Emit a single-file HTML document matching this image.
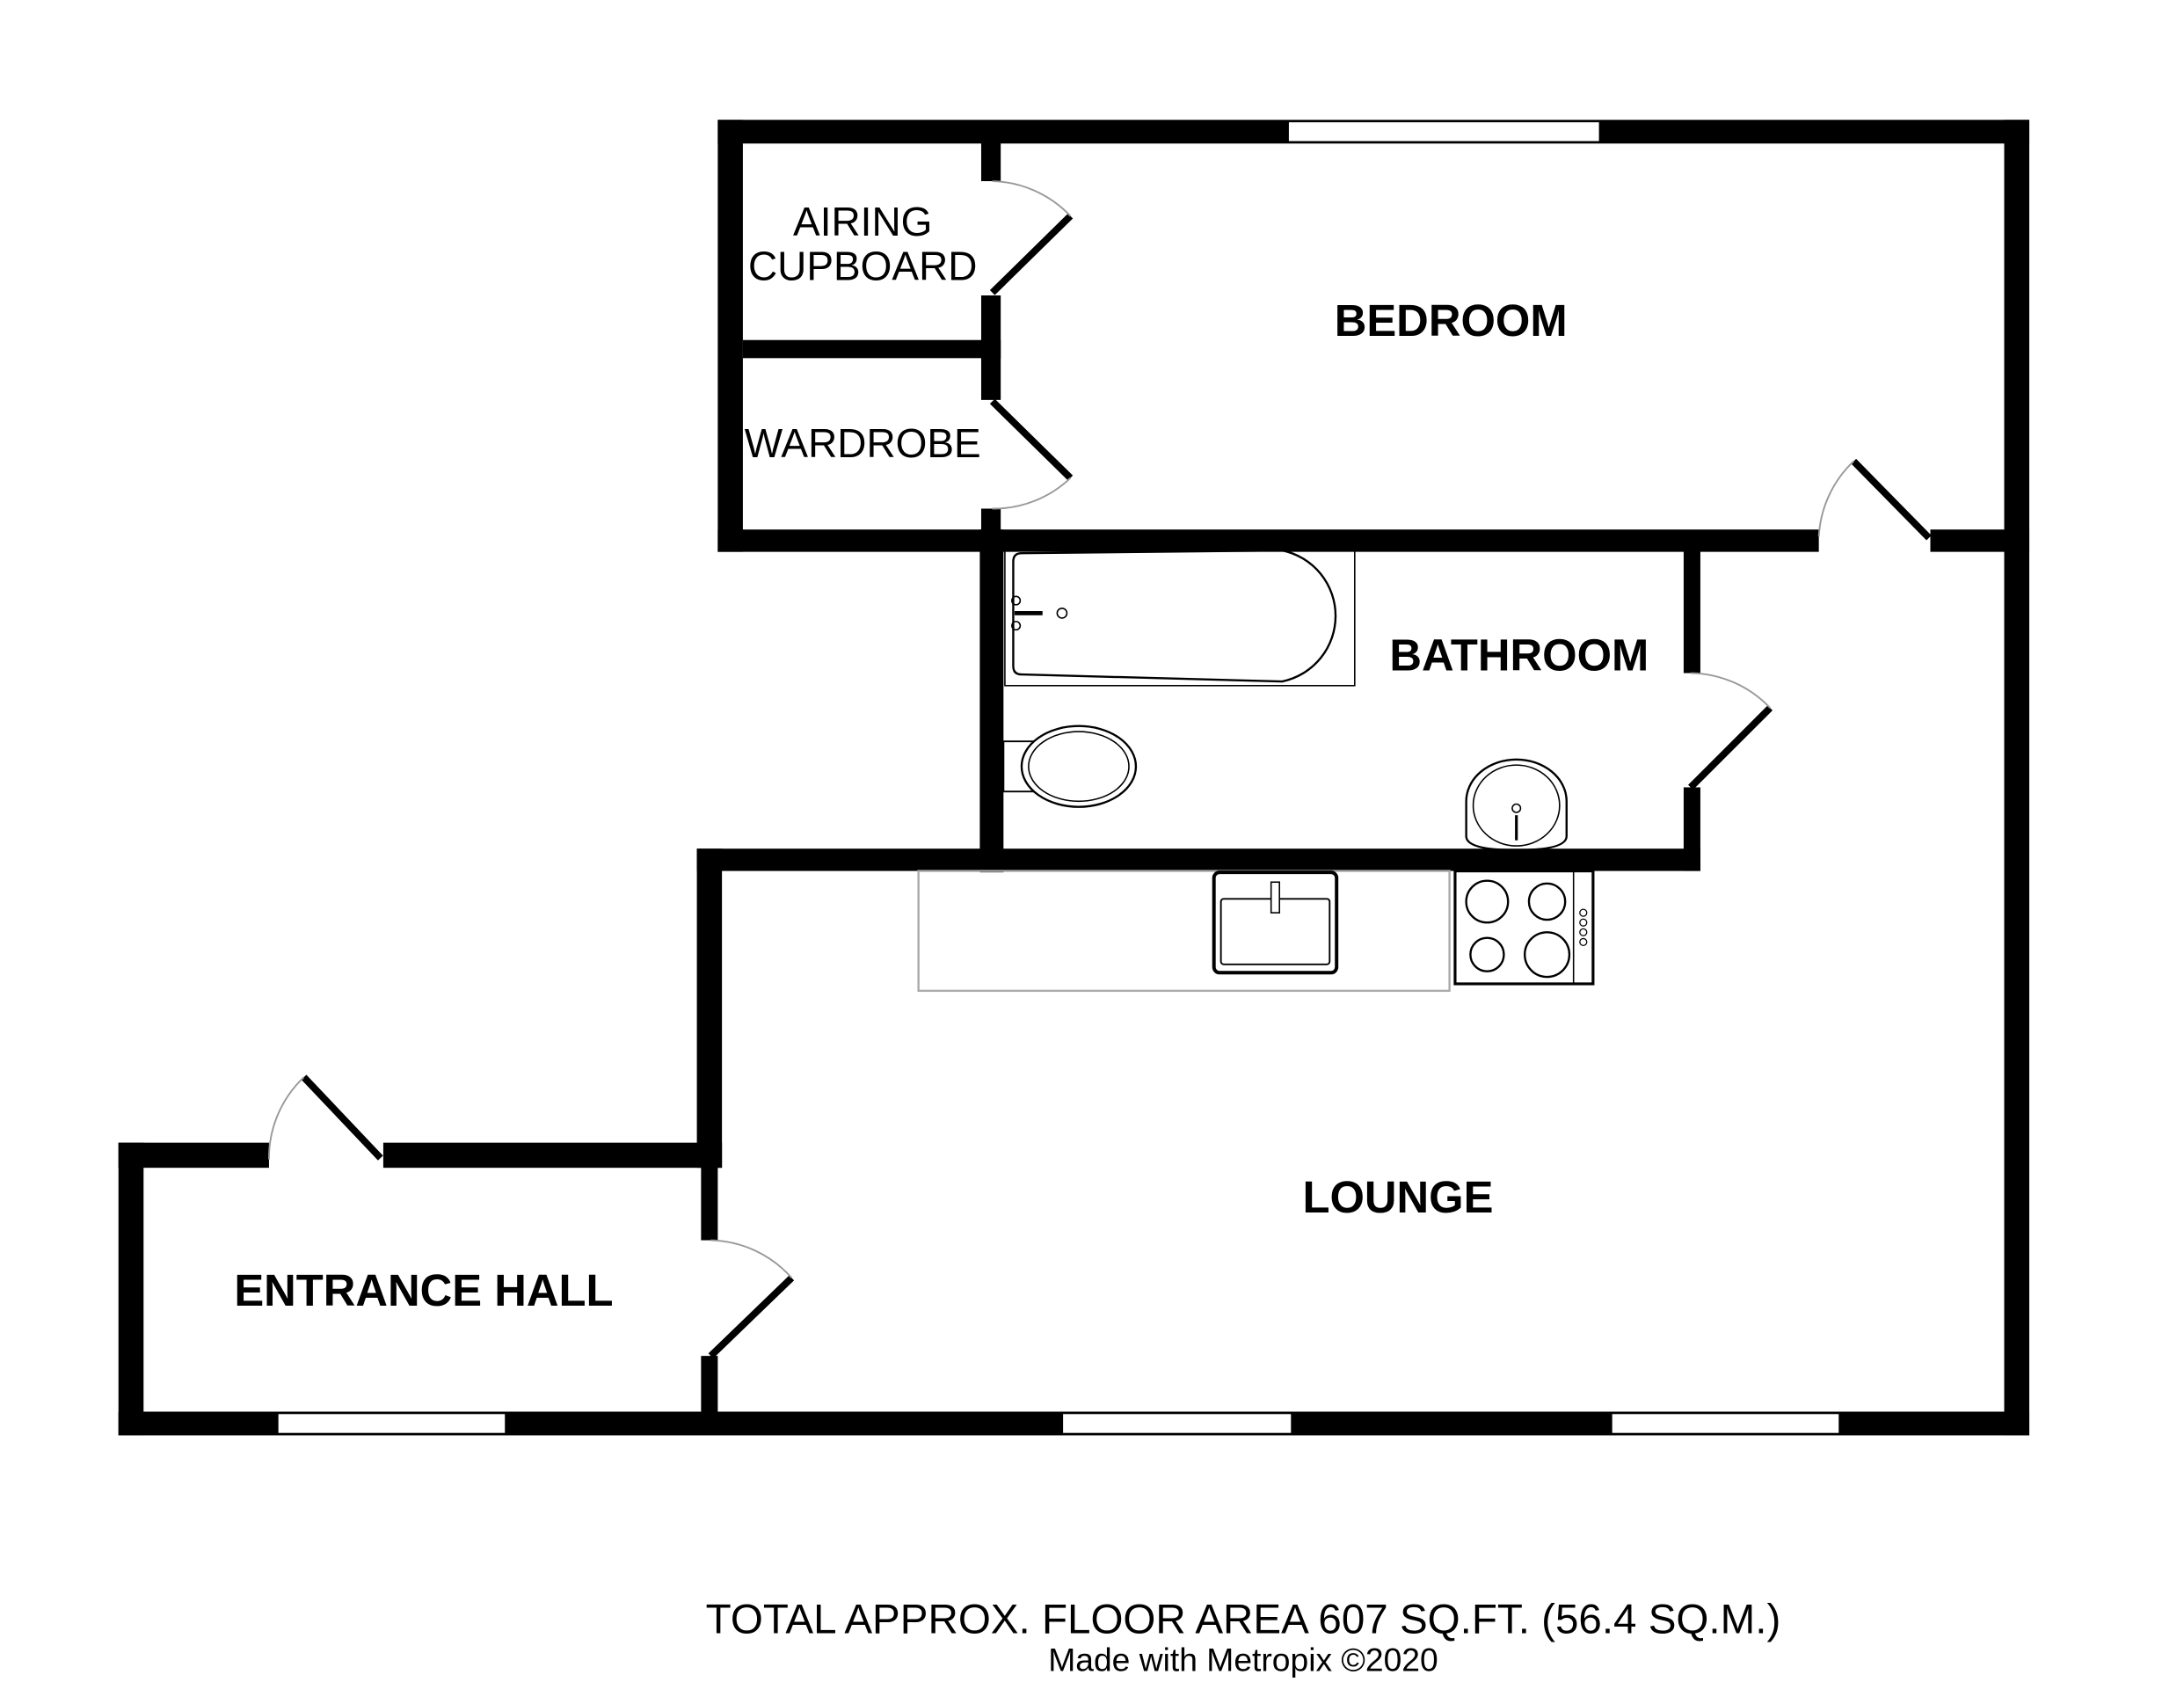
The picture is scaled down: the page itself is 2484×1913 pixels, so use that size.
<!DOCTYPE html>
<html><head><style>html,body{margin:0;padding:0;background:#fff}svg{display:block}</style></head>
<body>
<svg width="2484" height="1913" viewBox="0 0 1567 1207" preserveAspectRatio="none" xmlns="http://www.w3.org/2000/svg" font-family="Liberation Sans, Arial, sans-serif">
<rect width="1567" height="1207" fill="#fff"/>
<g fill="#000">
<rect x="515" y="86" width="941" height="17"/>
<rect x="1438" y="86" width="18" height="944"/>
<rect x="515" y="86" width="18" height="310"/>
<rect x="704" y="102" width="14" height="28"/>
<rect x="704" y="212" width="14" height="75"/>
<rect x="704" y="365" width="14" height="31"/>
<rect x="533" y="244" width="185" height="13"/>
<rect x="515" y="380" width="790" height="16"/>
<rect x="1385" y="380" width="71" height="16"/>
<rect x="703" y="380" width="17" height="246"/>
<rect x="1208" y="390" width="12" height="93"/>
<rect x="1208" y="565" width="12" height="60"/>
<rect x="500" y="609" width="720" height="16"/>
<rect x="500" y="609" width="18" height="229"/>
<rect x="503" y="836" width="12" height="54"/>
<rect x="503" y="973" width="12" height="50"/>
<rect x="85" y="820" width="108" height="18"/>
<rect x="275" y="820" width="243" height="18"/>
<rect x="85" y="820" width="18" height="210"/>
<rect x="85" y="1013" width="1371" height="17"/>
</g>
<g fill="#fff" stroke="#000" stroke-width="1.5">
<rect x="924" y="87" width="224" height="15"/>
<rect x="199" y="1014" width="164" height="15"/>
<rect x="762" y="1014" width="165" height="15"/>
<rect x="1156" y="1014" width="164" height="15"/>
</g>
<g stroke="#000" stroke-width="5" fill="none">
<line x1="712" y1="210" x2="768" y2="155"/>
<line x1="712" y1="288" x2="768" y2="343"/>
<line x1="1330" y1="331" x2="1384" y2="386"/>
<line x1="1270" y1="508" x2="1213" y2="565"/>
<line x1="218" y1="773" x2="273" y2="831"/>
<line x1="568" y1="917" x2="510" y2="973"/>
</g>
<g stroke="#999" stroke-width="1.2" fill="none">
<path d="M712 130 A80 80 0 0 1 768 155"/>
<path d="M712 365 A80 80 0 0 0 768 343"/>
<path d="M1305 385 A80 80 0 0 1 1330 331"/>
<path d="M1213 483 A80 80 0 0 1 1270 508"/>
<path d="M193 832 A80 80 0 0 1 218 773"/>
<path d="M510 890 A80 80 0 0 1 568 917"/>
</g>
<rect x="721" y="391" width="251" height="101" fill="none" stroke="#000" stroke-width="1"/>
<path d="M733 397 L920 395 A48 48 0 0 1 920 489 L733 484 Q727 484 727 478 L727 403 Q727 397 733 397 Z" fill="none" stroke="#000" stroke-width="1.5"/>
<line x1="728" y1="440" x2="748" y2="440" stroke="#000" stroke-width="3"/>
<circle cx="762" cy="440" r="3.5" fill="none" stroke="#000"/>
<circle cx="729" cy="431" r="3" fill="none" stroke="#000"/>
<circle cx="729" cy="449" r="3" fill="none" stroke="#000"/>
<rect x="720" y="532" width="35" height="36" fill="none" stroke="#000" stroke-width="1.2"/>
<ellipse cx="774" cy="550" rx="41" ry="29" fill="#fff" stroke="#000" stroke-width="1.5"/>
<ellipse cx="774" cy="550" rx="36" ry="25" fill="none" stroke="#000" stroke-width="1"/>
<path d="M1052 575 A36 30 0 0 1 1124 575 L1124 600 Q1124 610 1088 610 Q1052 610 1052 600 Z" fill="none" stroke="#000" stroke-width="1.5"/>
<ellipse cx="1088" cy="578" rx="31" ry="29" fill="none" stroke="#000" stroke-width="1"/>
<line x1="1088" y1="585" x2="1088" y2="603" stroke="#000" stroke-width="2"/>
<circle cx="1088" cy="580" r="3" fill="none" stroke="#000"/>
<rect x="659" y="625" width="381" height="86" fill="none" stroke="#aaa" stroke-width="1.5"/>
<rect x="871" y="626" width="88" height="72" rx="4" fill="#fff" stroke="#000" stroke-width="2.5"/>
<rect x="876" y="645" width="78" height="47" rx="2" fill="none" stroke="#000" stroke-width="1.2"/>
<rect x="912" y="633" width="6" height="22" fill="#fff" stroke="#000"/>
<rect x="1044" y="625" width="99" height="81" fill="#fff" stroke="#000" stroke-width="2"/>
<line x1="1129" y1="625" x2="1129" y2="706" stroke="#000" stroke-width="1"/>
<circle cx="1067" cy="647" r="15" fill="none" stroke="#000" stroke-width="1.5"/>
<circle cx="1110" cy="647" r="13" fill="none" stroke="#000" stroke-width="1.5"/>
<circle cx="1067" cy="685" r="12" fill="none" stroke="#000" stroke-width="1.5"/>
<circle cx="1110" cy="685" r="16" fill="none" stroke="#000" stroke-width="1.5"/>
<g fill="none" stroke="#000" stroke-width="0.8"><circle cx="1136" cy="655" r="2.5"/><circle cx="1136" cy="662" r="2.5"/><circle cx="1136" cy="669" r="2.5"/><circle cx="1136" cy="676" r="2.5"/></g>
<g fill="#000" text-anchor="middle">
<text x="619" y="169" font-size="29">AIRING</text>
<text x="619" y="201" font-size="29">CUPBOARD</text>
<text x="619" y="328" font-size="29">WARDROBE</text>
<text x="1041" y="241" font-size="32" font-weight="bold">BEDROOM</text>
<text x="1090" y="481" font-size="32" font-weight="bold">BATHROOM</text>
<text x="1003" y="870" font-size="32" font-weight="bold">LOUNGE</text>
<text x="304" y="937" font-size="32" font-weight="bold">ENTRANCE HALL</text>
<text x="892" y="1172" font-size="30">TOTAL APPROX. FLOOR AREA 607 SQ.FT. (56.4 SQ.M.)</text>
<text x="892" y="1199" font-size="23.5">Made with Metropix ©2020</text>
</g>
</svg>
</body></html>
